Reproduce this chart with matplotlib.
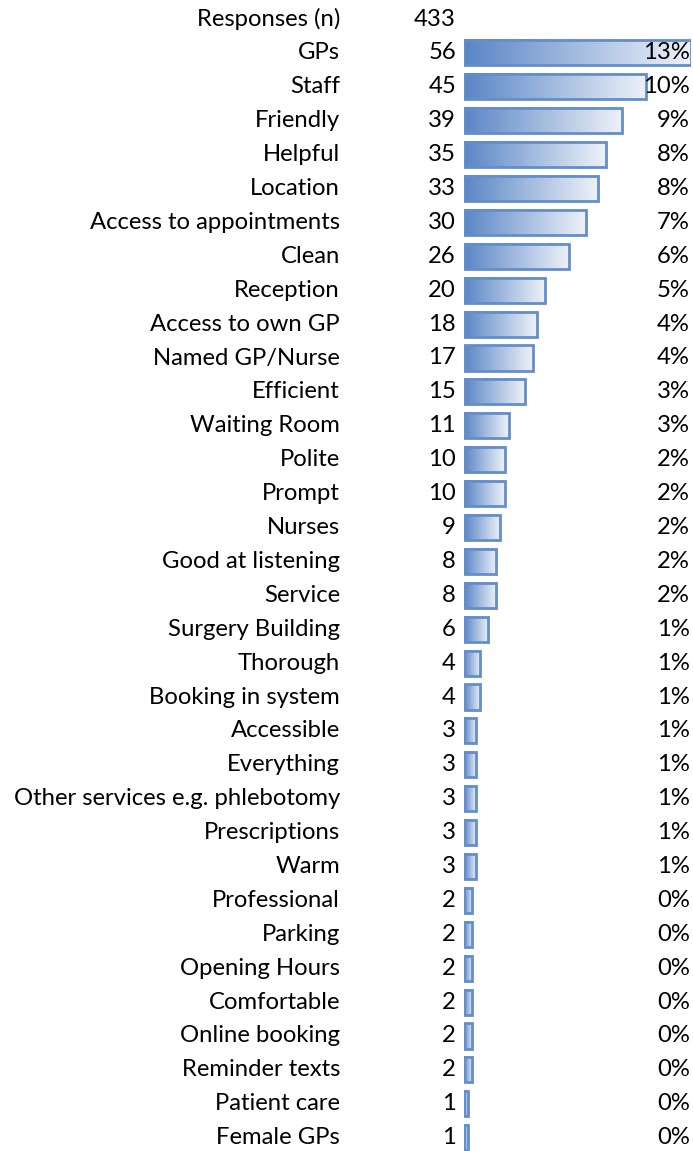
import numpy as np
import matplotlib.pyplot as plt
from matplotlib.colors import LinearSegmentedColormap
from matplotlib.patches import Rectangle
import matplotlib.transforms as mtransforms

total = 433
categories = ["GPs", "Staff", "Friendly", "Helpful", "Location", "Access to appointments",
              "Clean", "Reception", "Access to own GP", "Named GP/Nurse", "Efficient",
              "Waiting Room", "Polite", "Prompt", "Nurses", "Good at listening", "Service",
              "Surgery Building", "Thorough", "Booking in system", "Accessible", "Everything",
              "Other services e.g. phlebotomy", "Prescriptions", "Warm", "Professional",
              "Parking", "Opening Hours", "Comfortable", "Online booking", "Reminder texts",
              "Patient care", "Female GPs"]
counts = [56, 45, 39, 35, 33, 30, 26, 20, 18, 17, 15, 11, 10, 10, 9, 8, 8, 6, 4, 4,
          3, 3, 3, 3, 3, 2, 2, 2, 2, 2, 2, 1, 1]

W, H = 693, 1151
fig = plt.figure(figsize=(W / 100, H / 100), dpi=100)
plt.rcParams['font.family'] = ['Lato', 'DejaVu Sans']

# bar area in pixels
x0, x1 = 464, 691
row0, pitch = 19, 33.9
ax = fig.add_axes([x0 / W, 0, (x1 - x0) / W, 1])
ax.axis("off")

cmap = LinearSegmentedColormap.from_list("bar", ["#5A86C6", "#EEF2F9"])
grad = np.linspace(0, 1, 256).reshape(1, -1)
bh = 0.74

for i, c in enumerate(counts):
    y = i + 1
    ax.imshow(grad, cmap=cmap, aspect="auto", extent=(0, c, y + bh / 2, y - bh / 2),
              zorder=1, interpolation="bilinear")
    ax.add_patch(Rectangle((0, y - bh / 2), c, bh, fill=False, edgecolor="#648ECB",
                           linewidth=2, zorder=2))
ax.set_xlim(0, max(counts))
ax.set_ylim(33 + (H - (row0 + 33 * pitch)) / pitch, -row0 / pitch)

tr = mtransforms.blended_transform_factory(fig.transFigure, ax.transData)
fs = 17.2
ax.text(340 / W, 0, "Responses (n)", transform=tr, ha="right", va="center", fontsize=fs)
ax.text(456 / W, 0, str(total), transform=tr, ha="right", va="center", fontsize=fs)
for i, (cat, c) in enumerate(zip(categories, counts)):
    y = i + 1
    ax.text(340 / W, y, cat, transform=tr, ha="right", va="center", fontsize=fs)
    ax.text(456 / W, y, str(c), transform=tr, ha="right", va="center", fontsize=fs)
    ax.text(690 / W, y, f"{round(c / total * 100)}%", transform=tr, ha="right",
            va="center", fontsize=fs, zorder=3)

fig.savefig("out.png", dpi=100)
